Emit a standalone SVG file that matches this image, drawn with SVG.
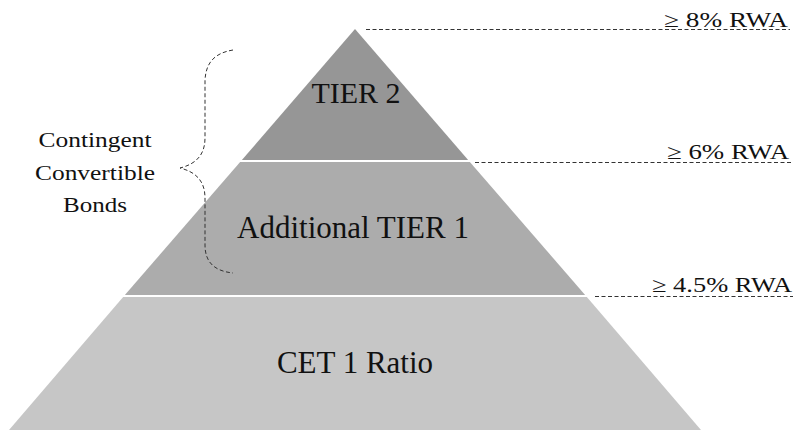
<svg xmlns="http://www.w3.org/2000/svg" width="798" height="430" viewBox="0 0 798 430">
<defs>
<style>
.dash{stroke:#333;stroke-width:1;stroke-dasharray:4 2.5;fill:none;}
.sep{stroke:#ffffff;stroke-width:2;}
</style>
</defs>
<rect width="798" height="430" fill="#ffffff"/>
<g id="cet1">
<polygon points="124,296 586,296 701,430 9,430" fill="#c6c6c6"/>
<text x="355" y="373" font-family="Liberation Serif" font-size="31" fill="#111" text-anchor="middle">CET 1 Ratio</text>
</g>
<g id="at1">
<polygon points="241,161 469,161 586,296 124,296" fill="#acacac"/>
<text x="353" y="238" font-family="Liberation Serif" font-size="31" fill="#111" text-anchor="middle">Additional TIER 1</text>
</g>
<g id="tier2">
<polygon points="355,29 469,161 241,161" fill="#969696"/>
<text x="356" y="103" font-family="Liberation Serif" font-size="30" fill="#111" text-anchor="middle">TIER 2</text>
</g>
<g id="separators">
<line class="sep" x1="240" y1="161" x2="470" y2="161"/>
<line class="sep" x1="123" y1="296" x2="587" y2="296"/>
</g>
<g id="connectors">
<line class="dash" x1="366" y1="29.5" x2="790" y2="29.5"/>
<line class="dash" x1="475" y1="162.5" x2="792" y2="162.5"/>
<line class="dash" x1="595" y1="296.5" x2="793" y2="296.5"/>
<path class="dash" d="M233,50 C215,53 206,62 205,80 L205,138 C205,155 196,164 180,168 C196,172 205,181 205,198 L205,245 C205,262 214,271 233,273"/>
</g>
<g id="rwa8">
<text x="788" y="27" font-family="Liberation Serif" font-size="21" fill="#111" text-anchor="end" textLength="124" lengthAdjust="spacingAndGlyphs">&#x2265; 8% RWA</text>
</g>
<g id="rwa6">
<text x="789" y="159" font-family="Liberation Serif" font-size="21" fill="#111" text-anchor="end" textLength="122" lengthAdjust="spacingAndGlyphs">&#x2265; 6% RWA</text>
</g>
<g id="rwa45">
<text x="792" y="292" font-family="Liberation Serif" font-size="21" fill="#111" text-anchor="end" textLength="140" lengthAdjust="spacingAndGlyphs">&#x2265; 4.5% RWA</text>
</g>
<g id="coco">
<text x="95" y="147" font-family="Liberation Serif" font-size="22" fill="#111" text-anchor="middle" textLength="113" lengthAdjust="spacingAndGlyphs">Contingent</text>
<text x="95" y="180" font-family="Liberation Serif" font-size="22" fill="#111" text-anchor="middle" textLength="120" lengthAdjust="spacingAndGlyphs">Convertible</text>
<text x="95" y="212" font-family="Liberation Serif" font-size="22" fill="#111" text-anchor="middle" textLength="64" lengthAdjust="spacingAndGlyphs">Bonds</text>
</g>
</svg>
